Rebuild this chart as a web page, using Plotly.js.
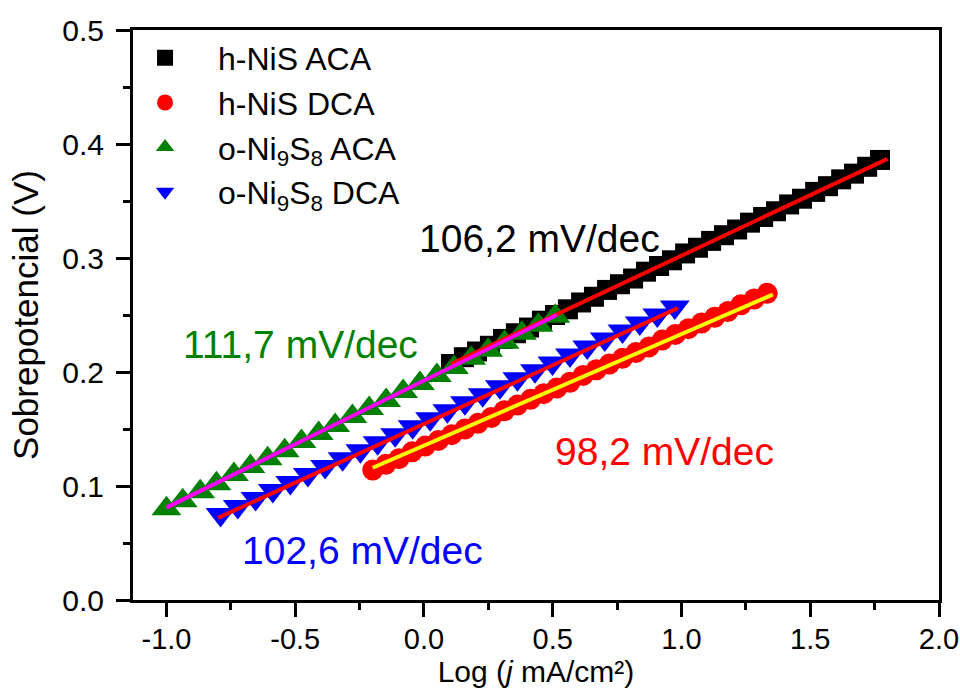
<!DOCTYPE html>
<html>
<head>
<meta charset="utf-8">
<script src="https://cdn.plot.ly/plotly-3.0.1.min.js"></script>
<style>html,body{margin:0;padding:0;background:#fff;}#chart{width:960px;height:693px;}</style>
</head>
<body>
<div id="chart"></div>
<script>
// h-NiS ACA (black squares)
const hnisAcaX = [0.105,0.155,0.206,0.256,0.307,0.357,0.408,0.458,0.509,0.559,0.610,0.660,0.711,0.761,0.812,0.862,0.913,0.963,1.014,1.064,1.115,1.165,1.216,1.266,1.317,1.367,1.418,1.468,1.519,1.569,1.620,1.670,1.721,1.771];
const hnisAcaY = [0.207,0.213,0.218,0.223,0.229,0.234,0.239,0.245,0.250,0.255,0.261,0.266,0.272,0.277,0.282,0.288,0.293,0.298,0.304,0.309,0.315,0.320,0.325,0.331,0.336,0.341,0.347,0.352,0.358,0.363,0.369,0.374,0.380,0.386];
// h-NiS DCA (red circles)
const hnisDcaX = [-0.199,-0.148,-0.097,-0.046,0.005,0.056,0.108,0.159,0.210,0.261,0.312,0.363,0.414,0.465,0.516,0.567,0.618,0.669,0.720,0.771,0.823,0.874,0.925,0.976,1.027,1.078,1.129,1.180,1.231,1.282,1.333];
const hnisDcaY = [0.114,0.119,0.124,0.130,0.135,0.140,0.145,0.150,0.155,0.160,0.166,0.171,0.176,0.181,0.186,0.191,0.197,0.202,0.207,0.212,0.217,0.222,0.228,0.233,0.238,0.243,0.248,0.253,0.259,0.264,0.269];
// o-Ni9S8 ACA (green up triangles)
const oniAcaX = [-1.000,-0.937,-0.869,-0.806,-0.738,-0.674,-0.607,-0.541,-0.476,-0.409,-0.345,-0.278,-0.213,-0.147,-0.081,-0.016,0.050,0.116,0.183,0.249,0.313,0.380,0.444,0.510];
const oniAcaY = [0.080,0.087,0.095,0.102,0.110,0.117,0.124,0.131,0.139,0.146,0.153,0.161,0.168,0.175,0.183,0.190,0.197,0.204,0.212,0.219,0.226,0.234,0.241,0.249];
// o-Ni9S8 DCA (blue down triangles)
const oniDcaX = [-0.790,-0.723,-0.654,-0.587,-0.519,-0.451,-0.384,-0.316,-0.247,-0.180,-0.112,-0.044,0.024,0.091,0.159,0.228,0.295,0.363,0.431,0.499,0.567,0.634,0.702,0.771,0.838,0.906,0.974];
const oniDcaY = [0.075,0.082,0.089,0.096,0.103,0.110,0.117,0.124,0.131,0.138,0.145,0.152,0.159,0.166,0.173,0.180,0.187,0.194,0.201,0.208,0.215,0.222,0.229,0.236,0.243,0.250,0.257];
// Linear fits (endpoints)
const fitHnisAcaX = [0.105, 1.800];
const fitHnisAcaY = [0.207, 0.387];
const fitHnisDcaX = [-0.199, 1.355];
const fitHnisDcaY = [0.116, 0.268];
const fitOniAcaX = [-1.000, 0.516];
const fitOniAcaY = [0.081, 0.250];
const fitOniDcaX = [-0.800, 0.986];
const fitOniDcaY = [0.072, 0.256];
// Labels
const seriesNames = ['h-NiS ACA', 'h-NiS DCA', 'o-Ni<sub>9</sub>S<sub>8</sub> ACA', 'o-Ni<sub>9</sub>S<sub>8</sub> DCA'];
const slopeLabels = ['106,2 mV/dec', '98,2 mV/dec', '111,7 mV/dec', '102,6 mV/dec'];
const slopeLabelX = [-0.028, 0.500, -0.942, -0.716];
const slopeLabelY = [0.317, 0.130, 0.224, 0.043];

const FONT = 'Arial, "Liberation Sans", sans-serif';
const colors = ['#000000', '#FF0000', '#008000', '#0000FF'];

const traces = [
  {x: hnisAcaX, y: hnisAcaY, mode: 'markers', name: seriesNames[0], legendgroup: 'a',
   marker: {symbol: 'square', size: 20, color: colors[0]}},
  {x: hnisDcaX, y: hnisDcaY, mode: 'markers', name: seriesNames[1], legendgroup: 'b',
   marker: {symbol: 'circle', size: 21, color: colors[1]}},
  {x: oniAcaX, y: oniAcaY, mode: 'markers', name: seriesNames[2], legendgroup: 'c',
   marker: {symbol: 'triangle-up', size: 26, color: colors[2]}},
  {x: oniDcaX, y: oniDcaY, mode: 'markers', name: seriesNames[3], legendgroup: 'd',
   marker: {symbol: 'triangle-down', size: 26, color: colors[3]}},
  {x: fitHnisAcaX, y: fitHnisAcaY, mode: 'lines', showlegend: false, line: {color: '#FF0000', width: 4}},
  {x: fitHnisDcaX, y: fitHnisDcaY, mode: 'lines', showlegend: false, line: {color: '#FFFF00', width: 4}},
  {x: fitOniAcaX, y: fitOniAcaY, mode: 'lines', showlegend: false, line: {color: '#FF00FF', width: 4}},
  {x: fitOniDcaX, y: fitOniDcaY, mode: 'lines', showlegend: false, line: {color: '#FF0000', width: 4}}
];

const annotations = slopeLabels.map((t, i) => ({
  x: slopeLabelX[i], y: slopeLabelY[i], xref: 'x', yref: 'y', text: t, showarrow: false,
  xanchor: 'left', yanchor: 'middle', font: {family: FONT, size: 39, color: colors[i]}
}));

const layout = {
  width: 960, height: 693,
  margin: {l: 133, r: 21, t: 30, b: 93},
  paper_bgcolor: '#fff', plot_bgcolor: '#fff',
  font: {family: FONT, color: '#000'},
  showlegend: true,
  legend: {x: -0.026, y: 0.999, xanchor: 'left', yanchor: 'top', bgcolor: 'rgba(0,0,0,0)',
           font: {family: FONT, size: 32, color: '#000'}, tracegroupgap: 0, itemwidth: 96, itemsizing: 'trace'},
  xaxis: {
    range: [-1.13, 2.0], tickmode: 'array', tickvals: [-1, -0.5, 0, 0.5, 1, 1.5, 2],
    ticktext: ['-1.0', '-0.5', '0.0', '0.5', '1.0', '1.5', '2.0'],
    ticks: 'outside', ticklen: 14, tickwidth: 3, tickcolor: '#000',
    minor: {tickvals: [-0.75, -0.25, 0.25, 0.75, 1.25, 1.75], ticks: 'outside', ticklen: 7, tickwidth: 3, tickcolor: '#000'},
    showline: true, linewidth: 3, linecolor: '#000', mirror: true,
    showgrid: false, zeroline: false, ticklabelstandoff: -3,
    tickfont: {family: FONT, size: 29, color: '#000'},
    title: {text: 'Log (<i>j</i> mA/cm²)', font: {family: FONT, size: 30, color: '#000'}, standoff: 0}
  },
  yaxis: {
    range: [0, 0.5], tickmode: 'array', tickvals: [0, 0.1, 0.2, 0.3, 0.4, 0.5],
    ticktext: ['0.0', '0.1', '0.2', '0.3', '0.4', '0.5'],
    ticks: 'outside', ticklen: 14, tickwidth: 3, tickcolor: '#000',
    minor: {tickvals: [0.05, 0.15, 0.25, 0.35, 0.45], ticks: 'outside', ticklen: 7, tickwidth: 3, tickcolor: '#000'},
    showline: true, linewidth: 3, linecolor: '#000', mirror: true,
    showgrid: false, zeroline: false, ticklabelstandoff: 6,
    tickfont: {family: FONT, size: 30, color: '#000'},
    title: {text: 'Sobrepotencial (V)', font: {family: FONT, size: 35, color: '#000'}, standoff: 14}
  },
  annotations: annotations
};

Plotly.newPlot('chart', traces, layout, {displayModeBar: false, staticPlot: true});
</script>
</body>
</html>
